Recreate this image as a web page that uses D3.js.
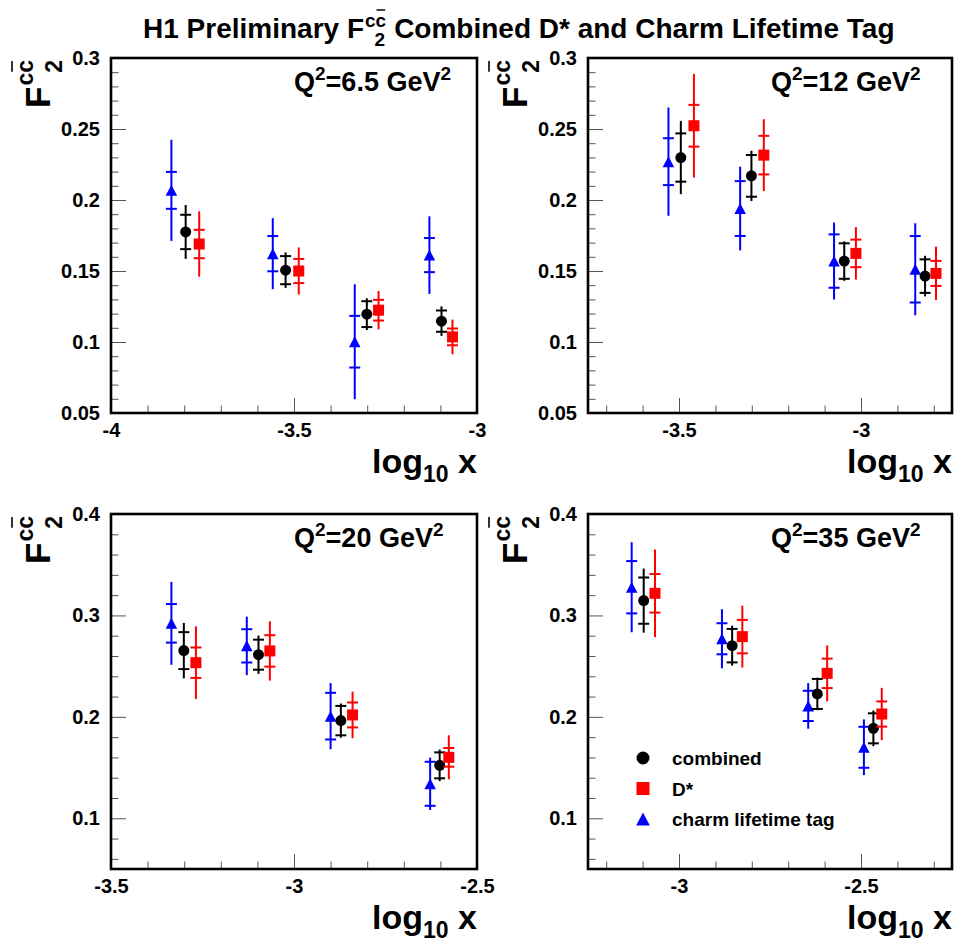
<!DOCTYPE html>
<html>
<head>
<meta charset="utf-8">
<script src="https://cdn.jsdelivr.net/npm/d3@7"></script>
<style>
  body { margin: 0; background: #fff; }
  svg { display: block; }
  text { font-family: "Liberation Sans", Arial, Helvetica, sans-serif; font-weight: bold; fill: #000; }
</style>
</head>
<body>
<svg id="chart" width="955" height="942"></svg>
<script>
// ---- Panels: Q^2 values, axis ranges and tick labels ----
const q2Values = ["6.5", "12", "20", "35"];
const xDomains = [[-4, -3], [-3.75, -2.75], [-3.5, -2.5], [-3.25, -2.25]];
const yDomains = [[0.05, 0.3], [0.05, 0.3], [0.05, 0.4], [0.05, 0.4]];
const xTickLabels = [["-4", "-3.5", "-3"], ["-3.5", "-3"], ["-3.5", "-3", "-2.5"], ["-3", "-2.5"]];
const yTickLabels = [
  ["0.05", "0.1", "0.15", "0.2", "0.25", "0.3"],
  ["0.05", "0.1", "0.15", "0.2", "0.25", "0.3"],
  ["0.1", "0.2", "0.3", "0.4"],
  ["0.1", "0.2", "0.3", "0.4"]
];
const xMinorStep = 0.1;
const xMajorStep = 0.5;
const yMinorSteps = [0.01, 0.01, 0.02, 0.02];
const yMajorSteps = [0.05, 0.05, 0.1, 0.1];

// ---- Combined measurement: log10 x, F2cc, stat error, total error ----
const combinedX = [
  [-3.796, -3.523, -3.301, -3.097],
  [-3.495, -3.301, -3.046, -2.824],
  [-3.301, -3.097, -2.872, -2.602],
  [-3.097, -2.854, -2.620, -2.466]
];
const combinedF2 = [
  [0.1775, 0.1506, 0.1196, 0.1147],
  [0.2299, 0.2170, 0.1570, 0.1464],
  [0.2653, 0.2613, 0.1963, 0.1522],
  [0.3146, 0.2702, 0.2226, 0.1887]
];
const combinedStat = [
  [0.0121, 0.0099, 0.0091, 0.0075],
  [0.0170, 0.0147, 0.0125, 0.0118],
  [0.0182, 0.0148, 0.0145, 0.0128],
  [0.0228, 0.0165, 0.0148, 0.0148]
];
const combinedTot = [
  [0.0190, 0.0125, 0.0112, 0.0104],
  [0.0258, 0.0177, 0.0139, 0.0143],
  [0.0273, 0.0189, 0.0169, 0.0156],
  [0.0316, 0.0197, 0.0160, 0.0176]
];

// ---- D* measurement ----
const dstarX = [
  [-3.759, -3.487, -3.269, -3.067],
  [-3.459, -3.267, -3.014, -2.794],
  [-3.268, -3.066, -2.840, -2.577],
  [-3.066, -2.826, -2.593, -2.443]
];
const dstarF2 = [
  [0.1690, 0.1500, 0.1224, 0.1036],
  [0.2523, 0.2316, 0.1624, 0.1483],
  [0.2534, 0.2650, 0.2019, 0.1601],
  [0.3218, 0.2791, 0.2429, 0.2028]
];
const dstarStat = [
  [0.0100, 0.0085, 0.0073, 0.0059],
  [0.0147, 0.0136, 0.0097, 0.0088],
  [0.0150, 0.0155, 0.0123, 0.0092],
  [0.0190, 0.0165, 0.0145, 0.0124]
];
const dstarTot = [
  [0.0230, 0.0166, 0.0135, 0.0122],
  [0.0365, 0.0253, 0.0185, 0.0188],
  [0.0358, 0.0293, 0.0230, 0.0217],
  [0.0432, 0.0305, 0.0276, 0.0258]
];

// ---- Charm lifetime tag measurement ----
const lifetimeX = [
  [-3.835, -3.558, -3.334, -3.130],
  [-3.529, -3.332, -3.074, -2.851],
  [-3.335, -3.129, -2.900, -2.628],
  [-3.130, -2.882, -2.645, -2.492]
];
const lifetimeF2 = [
  [0.2068, 0.1622, 0.1002, 0.1612],
  [0.2270, 0.1940, 0.1570, 0.1512],
  [0.2922, 0.2700, 0.2007, 0.1340],
  [0.3278, 0.2770, 0.2108, 0.1700]
];
const lifetimeStat = [
  [0.0130, 0.0124, 0.0182, 0.0120],
  [0.0165, 0.0193, 0.0188, 0.0234],
  [0.0190, 0.0164, 0.0230, 0.0217],
  [0.0258, 0.0153, 0.0149, 0.0202]
];
const lifetimeTot = [
  [0.0356, 0.0250, 0.0405, 0.0273],
  [0.0381, 0.0295, 0.0271, 0.0324],
  [0.0409, 0.0288, 0.0326, 0.0258],
  [0.0444, 0.0291, 0.0225, 0.0275]
];

const legendLabels = ["combined", "D*", "charm lifetime tag"];

// ---- Layout ----
const svg = d3.select("#chart");
const frameLeft = [111, 588];
const frameTop = [58, 514];
const frameW = [366, 364];
const frameH = 355;
const tickColor = "#555";

const series = [
  { x: lifetimeX, v: lifetimeF2, s: lifetimeStat, t: lifetimeTot, color: "#0000ff", shape: "triangle" },
  { x: combinedX, v: combinedF2, s: combinedStat, t: combinedTot, color: "#000000", shape: "circle" },
  { x: dstarX, v: dstarF2, s: dstarStat, t: dstarTot, color: "#ff0000", shape: "square" }
];

function drawMarker(g, shape, cx, cy, size, color) {
  if (shape === "circle") {
    g.append("circle").attr("cx", cx).attr("cy", cy).attr("r", size / 2).attr("fill", color);
  } else if (shape === "square") {
    g.append("rect").attr("x", cx - size / 2).attr("y", cy - size / 2)
      .attr("width", size).attr("height", size).attr("fill", color);
  } else {
    const h = size, w = size * 1.05;
    g.append("path")
      .attr("d", `M${cx},${cy - h / 2}L${cx + w / 2},${cy + h / 2}L${cx - w / 2},${cy + h / 2}Z`)
      .attr("fill", color);
  }
}

// Tick positions: multiples of step lying inside the domain
function stepTicks(domain, step) {
  const k0 = Math.ceil(domain[0] / step - 1e-9), k1 = Math.floor(domain[1] / step + 1e-9);
  return d3.range(k0, k1 + 1).map(k => Math.round(k * step * 1000) / 1000);
}
const near = (arr, v) => arr.some(a => Math.abs(a - v) < 1e-9);

// Rotated y-axis title: F with superscript c c-bar and subscript 2
function drawYTitle(px, py) {
  const g = svg.append("g").attr("transform", `translate(${px},${py}) rotate(-90)`);
  const inner = g.append("g");
  const f = inner.append("text").attr("x", 0).attr("y", 0).style("font-size", "35px").text("F");
  const wF = f.node().getComputedTextLength();
  const sup = inner.append("text").attr("x", wF + 1).attr("y", -17).style("font-size", "23px").text("cc");
  const wSup = sup.node().getComputedTextLength();
  inner.append("text").attr("x", wF + 1 + wSup).attr("y", 12)
    .attr("text-anchor", "end").style("font-size", "23px").text("2");
  const ext = sup.node().getExtentOfChar(1);
  inner.append("line").attr("x1", ext.x + 1).attr("x2", ext.x + ext.width - 1)
    .attr("y1", -38).attr("y2", -38).attr("stroke", "#000").attr("stroke-width", 1.6);
  inner.attr("transform", `translate(${-(wF + 1 + wSup)},0)`);
}

d3.range(4).forEach(i => {
  const col = i % 2, row = Math.floor(i / 2);
  const x0 = frameLeft[col], y0 = frameTop[row], w = frameW[col], h = frameH;
  const x = d3.scaleLinear().domain(xDomains[i]).range([x0, x0 + w]);
  const y = d3.scaleLinear().domain(yDomains[i]).range([y0 + h, y0]);
  const g = svg.append("g");

  const xMajor = stepTicks(xDomains[i], xMajorStep);
  const yMajor = stepTicks(yDomains[i], yMajorSteps[i]);
  const xMinor = stepTicks(xDomains[i], xMinorStep).filter(v => !near(xMajor, v));
  const yMinor = stepTicks(yDomains[i], yMinorSteps[i]).filter(v => !near(yMajor, v));
  const xLabelVals = xTickLabels[i].map(Number);
  const yLabelVals = yTickLabels[i].map(Number);
  const labelOf = (vals, labels) => d => {
    const k = vals.findIndex(v => Math.abs(v - d) < 1e-9);
    return k >= 0 ? labels[k] : "";
  };

  const xMinorAxis = g.append("g").attr("transform", `translate(0,${y0 + h})`)
    .call(d3.axisBottom(x).tickValues(xMinor).tickSizeInner(-7.5).tickSizeOuter(0).tickFormat(""));
  const yMinorAxis = g.append("g").attr("transform", `translate(${x0},0)`)
    .call(d3.axisLeft(y).tickValues(yMinor).tickSizeInner(-7.5).tickSizeOuter(0).tickFormat(""));
  const xAxis = g.append("g").attr("transform", `translate(0,${y0 + h})`)
    .call(d3.axisBottom(x).tickValues(xMajor).tickSizeInner(-15).tickSizeOuter(0).tickPadding(10)
      .tickFormat(labelOf(xLabelVals, xTickLabels[i])));
  const yAxis = g.append("g").attr("transform", `translate(${x0},0)`)
    .call(d3.axisLeft(y).tickValues(yMajor).tickSizeInner(-15).tickSizeOuter(0).tickPadding(11)
      .tickFormat(labelOf(yLabelVals, yTickLabels[i])));

  [xMinorAxis, yMinorAxis, xAxis, yAxis].forEach(a => {
    a.attr("font-family", null).attr("font-size", null);
    a.select(".domain").remove();
    a.selectAll(".tick line").attr("stroke", tickColor).attr("stroke-width", 1);
  });
  [xAxis, yAxis].forEach(a => a.selectAll(".tick text").style("font-size", "20px").attr("fill", "#000"));

  // error bars and markers
  series.forEach(sr => {
    sr.v[i].forEach((v, k) => {
      const px = x(sr.x[i][k]);
      g.append("line").attr("x1", px).attr("x2", px)
        .attr("y1", y(v - sr.t[i][k])).attr("y2", y(v + sr.t[i][k]))
        .attr("stroke", sr.color).attr("stroke-width", 2);
      [v - sr.s[i][k], v + sr.s[i][k]].forEach(e => {
        g.append("line").attr("x1", px - 5.5).attr("x2", px + 5.5)
          .attr("y1", y(e)).attr("y2", y(e))
          .attr("stroke", sr.color).attr("stroke-width", 2);
      });
    });
    sr.v[i].forEach((v, k) => drawMarker(g, sr.shape, x(sr.x[i][k]), y(v), 11, sr.color));
  });

  // frame
  g.append("rect").attr("x", x0).attr("y", y0).attr("width", w).attr("height", h)
    .attr("fill", "none").attr("stroke", "#000").attr("stroke-width", 2.6);

  // Q^2 label
  const q = g.append("text").attr("x", x0 + 183).attr("y", y0 + 33).style("font-size", "27px");
  q.append("tspan").text("Q");
  q.append("tspan").attr("dy", -11).style("font-size", "19px").text("2");
  q.append("tspan").attr("dy", 11).text(`=${q2Values[i]} GeV`);
  q.append("tspan").attr("dy", -11).style("font-size", "19px").text("2");

  // x-axis title
  const xt = g.append("text").attr("x", x0 + w).attr("y", y0 + h + 60)
    .attr("text-anchor", "end").style("font-size", "34px");
  xt.append("tspan").text("log");
  xt.append("tspan").attr("dy", 9).style("font-size", "23px").text("10");
  xt.append("tspan").attr("dy", -9).text("\u00a0x");

  // y-axis title
  drawYTitle(x0 - 61, y0 + 2);

  // legend in the last panel
  if (i === 3) {
    const lg = svg.append("g");
    const shapes = ["circle", "square", "triangle"];
    const colors = ["#000000", "#ff0000", "#0000ff"];
    legendLabels.forEach((lab, k) => {
      const cy = y0 + 244 + k * 30.5;
      drawMarker(lg, shapes[k], x0 + 55, cy, 13, colors[k]);
      lg.append("text").attr("x", x0 + 84).attr("y", cy + 7).style("font-size", "19px").text(lab);
    });
  }
});

// ---- Title ----
(function drawTitle() {
  const g = svg.append("g");
  const x0 = 143, base = 38;
  const t1 = g.append("text").attr("x", x0).attr("y", base).style("font-size", "28px").text("H1 Preliminary F");
  const w1 = t1.node().getComputedTextLength();
  const sup = g.append("text").attr("x", x0 + w1 + 1).attr("y", base - 11).style("font-size", "19px").text("cc");
  const wSup = sup.node().getComputedTextLength();
  g.append("text").attr("x", x0 + w1 + 1 + wSup - 1).attr("y", base + 8)
    .attr("text-anchor", "end").style("font-size", "19px").text("2");
  const ext = sup.node().getExtentOfChar(1);
  g.append("line").attr("x1", ext.x + 1).attr("x2", ext.x + ext.width - 1)
    .attr("y1", base - 28).attr("y2", base - 28).attr("stroke", "#000").attr("stroke-width", 1.5);
  g.append("text").attr("x", x0 + w1 + 1 + wSup + 8).attr("y", base).style("font-size", "28px")
    .text("Combined D* and Charm Lifetime Tag");
})();
</script>
</body>
</html>
